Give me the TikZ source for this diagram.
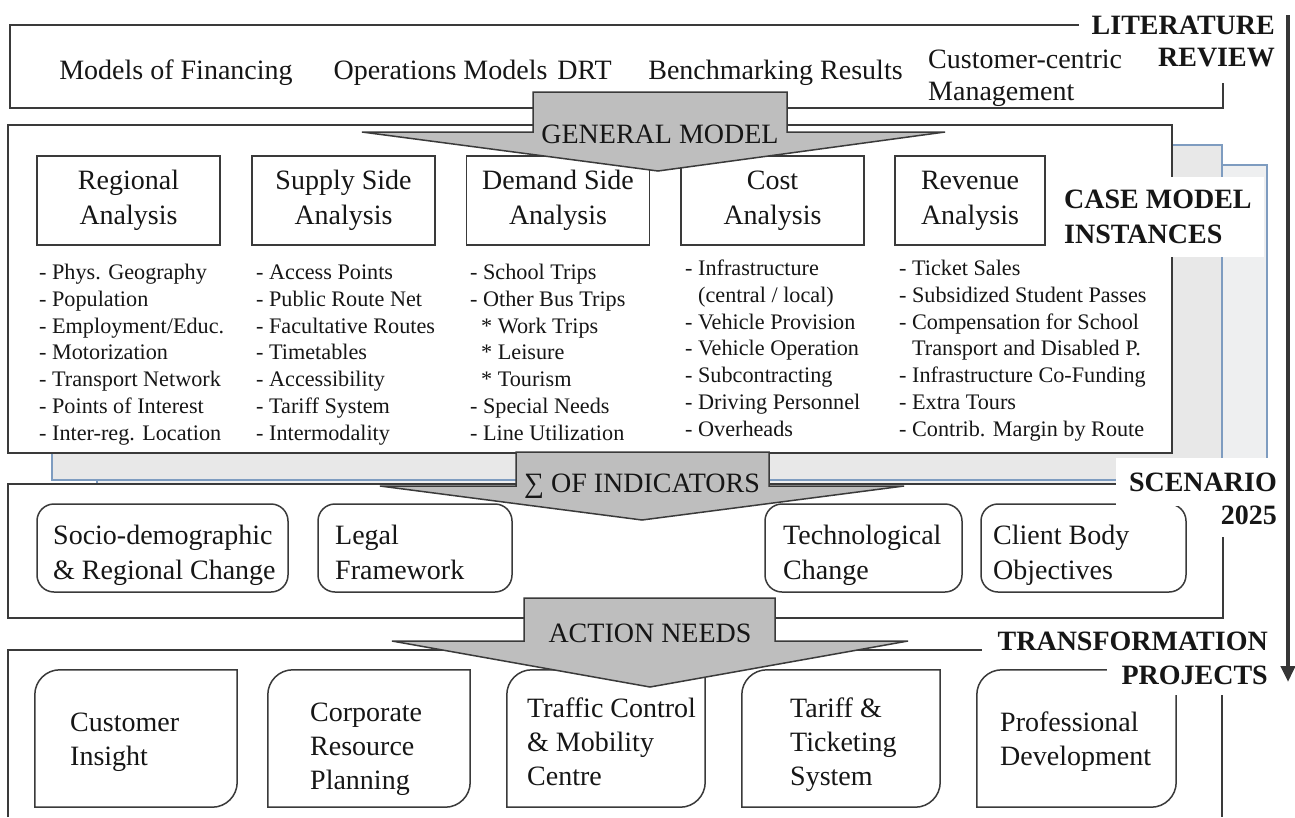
\documentclass[tikz,border=0pt]{standalone}
\usepackage{fontspec}
\setmainfont{Liberation Serif}
\usetikzlibrary{arrows.meta}

\definecolor{ink}{HTML}{161616}
\definecolor{frame}{HTML}{3A3A3A}
\definecolor{stackline}{HTML}{7E9CC0}
\definecolor{stackfill}{HTML}{E8E8E8}
\definecolor{stackfillback}{HTML}{EEEFF0}
\definecolor{arrowfill}{HTML}{BEBEBE}
\definecolor{flowline}{HTML}{363636}

\newcommand{\bodyfs}{\fontsize{28}{35}\selectfont}
\newcommand{\projfs}{\fontsize{28}{34}\selectfont}
\newcommand{\listfs}{\fontsize{22.2}{26.7}\selectfont}

% outline with rounded top-left and bottom-right corners around a node
\newcommand{\cornerframe}[2][25pt]{%
  \draw[frameline] (#2.south west) -- ([yshift=-#1]#2.north west)
    arc[start angle=180,end angle=90,radius=#1] -- (#2.north east)
    -- ([yshift=#1]#2.south east)
    arc[start angle=0,end angle=-90,radius=#1] -- cycle;}

% multi-line nodes below are placed by the baseline of their last line
\tikzset{
  frameline/.style={draw=frame, line width=1.5pt},
  stackframe/.style={draw=stackline, line width=1.5pt},
  txt/.style={font=\bodyfs, text=ink, inner sep=0pt},
  tag/.style={font=\bodyfs\bfseries, text=ink, fill=white, inner ysep=0pt},
  analysis/.style={frameline, fill=white, font=\bodyfs, text=ink, align=center,
    minimum height=89pt, minimum width=183pt, inner sep=0pt},
  items/.style={font=\listfs, text=ink, align=left, inner sep=0pt, anchor=base west},
  roundbox/.style={frameline, fill=white, rounded corners=17pt, minimum height=88pt, inner sep=0pt},
  roundtxt/.style={font=\bodyfs, text=ink, align=left, inner sep=0pt, anchor=base west},
  projbox/.style={minimum height=137pt, inner sep=0pt},
  projtxt/.style={font=\projfs, text=ink, align=left, inner sep=0pt, anchor=base west},
  bigarrow/.style={draw=frame, line width=1.5pt, fill=arrowfill, line join=miter},
}

\begin{document}
\begin{tikzpicture}[x=1pt,y=-1pt]
\useasboundingbox (0,0) rectangle (1295,817);
\fill[white] (0,0) rectangle (1295,817);

% ---------- literature review ----------
\draw[frameline] (10,25) rectangle (1223,108);
\node[txt, anchor=base] (fin) at (176,79) {Models of Financing};
\node[txt, anchor=base] (ops) at (440.5,79) {Operations Models};
\node[txt, anchor=base] (drt) at (584.5,79) {DRT};
\node[txt, anchor=base] (bench) at (775.5,79) {Benchmarking Results};
\node[txt, anchor=base west, align=left, font=\fontsize{28}{32}\selectfont] (ccm) at (928,100) {Customer-centric\\Management};

% ---------- case model instances (stacked sheets) ----------
\draw[stackframe, fill=stackfillback] (97,165) rectangle (1267,500);
\draw[stackframe, fill=stackfill] (52,145) rectangle (1222,480);
\draw[frameline, fill=white] (8,125) rectangle (1172,453);

\node[analysis] (regional) at (128.5,200.5) {Regional\\Analysis};
\node[analysis] (supply) at (343.5,200.5) {Supply Side\\Analysis};
\node[analysis] (demand) at (558,200.5) {Demand Side\\Analysis};
\node[analysis] (cost) at (772.5,200.5) {Cost\\Analysis};
\node[analysis, minimum width=150pt] (revenue) at (970,200.5) {Revenue\\Analysis};

\node[items] (reglist) at (39,440) {- Phys. Geography\\- Population\\- Employment/Educ.\\- Motorization\\- Transport Network\\- Points of Interest\\- Inter-reg. Location};
\node[items] (suplist) at (256,440) {- Access Points\\- Public Route Net\\- Facultative Routes\\- Timetables\\- Accessibility\\- Tariff System\\- Intermodality};
\node[items] (demlist) at (470,440) {- School Trips\\- Other Bus Trips\\\hspace*{11pt}* Work Trips\\\hspace*{11pt}* Leisure\\\hspace*{11pt}* Tourism\\- Special Needs\\- Line Utilization};
\node[items] (costlist) at (685,436) {- Infrastructure\\\hspace*{13pt}(central / local)\\- Vehicle Provision\\- Vehicle Operation\\- Subcontracting\\- Driving Personnel\\- Overheads};
\node[items] (revlist) at (899,436) {- Ticket Sales\\- Subsidized Student Passes\\- Compensation for School\\\hspace*{13pt}Transport and Disabled P.\\- Infrastructure Co-Funding\\- Extra Tours\\- Contrib. Margin by Route};

% ---------- scenario 2025 ----------
\draw[frameline, fill=white] (8,484) rectangle (1223,618);

\node[roundbox, minimum width=251pt] (socio) at (162.5,548) {};
\node[roundtxt] (sociotxt) at (53,579) {Socio-demographic\\\& Regional Change};
\node[roundbox, minimum width=194pt] (legal) at (415,548) {};
\node[roundtxt] (legaltxt) at (335,579) {Legal\\Framework};
\node[roundbox, minimum width=197pt] (tech) at (863.5,548) {};
\node[roundtxt] (techtxt) at (783,579) {Technological\\Change};
\node[roundbox, minimum width=205pt] (client) at (1083.5,548) {};
\node[roundtxt] (clienttxt) at (993,579) {Client Body\\Objectives};

% ---------- transformation projects ----------
\draw[frameline] (8,817) -- (8,650) -- (1222,650) -- (1222,817);

\node[projbox, minimum width=202pt] (insight) at (136,738.5) {};
\cornerframe{insight}
\node[projtxt] (insighttxt) at (70,765) {Customer\\Insight};
\node[projbox, minimum width=202pt] (erp) at (369,738.5) {};
\cornerframe{erp}
\node[projtxt] (erptxt) at (310,789) {Corporate\\Resource\\Planning};
\node[projbox, minimum width=198pt] (traffic) at (606,738.5) {};
\cornerframe{traffic}
\node[projtxt] (traffictxt) at (527,785) {Traffic Control\\\& Mobility\\Centre};
\node[projbox, minimum width=198pt] (tariff) at (841,738.5) {};
\cornerframe{tariff}
\node[projtxt] (tarifftxt) at (790,785) {Tariff \&\\Ticketing\\System};
\node[projbox, minimum width=199pt] (prof) at (1076.5,738.5) {};
\cornerframe{prof}
\node[projtxt] (proftxt) at (1000,765) {Professional\\Development};

% ---------- broad arrows between the stages ----------
\draw[bigarrow] (533,92) -- (787,92) -- (787,132) -- (945,132) -- (658,171)
  -- (362,132) -- (533,132) -- cycle;
\node[txt, anchor=base] (gm) at (660,143) {GENERAL MODEL};

\draw[bigarrow] (516,452) -- (769,452) -- (769,486) -- (904,486) -- (642,520)
  -- (380,486) -- (516,486) -- cycle;
\node[txt, anchor=base] (ind) at (642,492) {∑ OF INDICATORS};

\draw[bigarrow] (524,598) -- (775,598) -- (775,641) -- (908,641) -- (650,687)
  -- (392,641) -- (524,641) -- cycle;
\node[txt, anchor=base] (needs) at (650,642) {ACTION NEEDS};

% ---------- stage labels ----------
\node[tag, anchor=base east, text height=27pt, text depth=9pt, inner xsep=13pt] (litA) at (1288,34.5) {LITERATURE};
\node[tag, anchor=base east, text height=25pt, text depth=16pt, inner xsep=10pt] (litB) at (1285,66.5) {REVIEW};
\node[tag, anchor=north west, align=left, inner xsep=12pt, minimum height=80pt] (casetag) at (1052,177) {CASE MODEL\\INSTANCES};
\node[tag, anchor=east, minimum height=48pt, inner xsep=13pt] (scnA) at (1290,482) {SCENARIO};
\node[tag, anchor=east, minimum height=44pt, inner xsep=13pt] (scnB) at (1290,515) {2025};
\node[tag, anchor=east, minimum height=36pt, inner xsep=16pt] (trA) at (1284,641) {TRANSFORMATION};
\node[tag, anchor=east, minimum height=40pt, inner xsep=15pt] (trB) at (1283,675) {PROJECTS};

% ---------- overall flow ----------
\coordinate (flowtop) at (1288,15);
\coordinate (flowend) at (1288,682);
\draw[draw=flowline, line width=4.5pt, -{Triangle[length=16pt,width=14pt]}] (flowtop) -- (flowend);
\end{tikzpicture}
\end{document}
